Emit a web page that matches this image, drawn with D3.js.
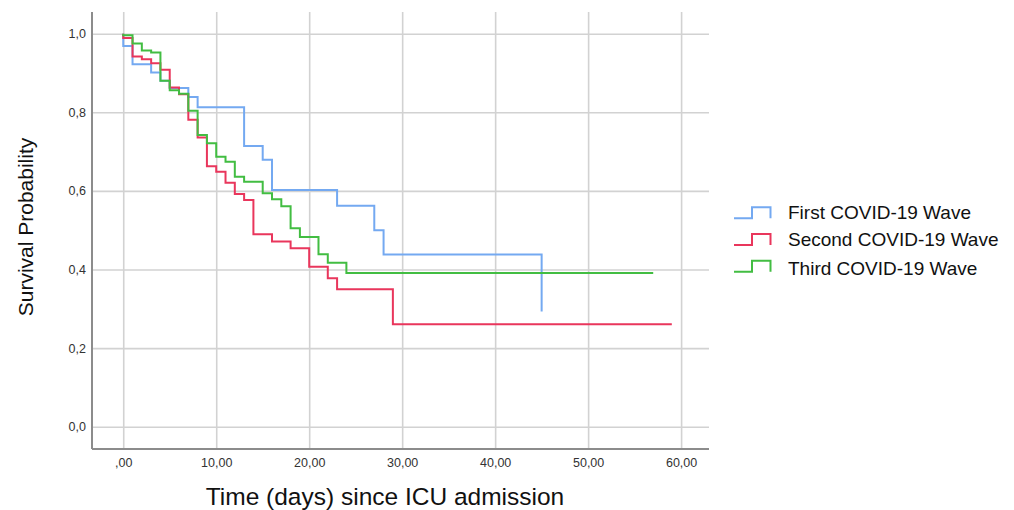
<!DOCTYPE html>
<html>
<head>
<meta charset="utf-8">
<script src="https://cdn.jsdelivr.net/npm/d3@7"></script>
<style>
  html, body { margin: 0; padding: 0; background: #fff; }
  svg { display: block; font-family: "Liberation Sans", Arial, sans-serif; }
</style>
</head>
<body>
<svg id="chart" width="1014" height="510"></svg>
<script>
// Kaplan-Meier survival estimates per wave: event times (days) and survival after each event
const waveNames = ["First COVID-19 Wave", "Second COVID-19 Wave", "Third COVID-19 Wave"];

const firstTimes = [0, 1, 3, 4, 5, 7, 8, 13, 15, 16, 23, 27, 28, 45];
const firstSurv  = [0.969, 0.922, 0.901, 0.880, 0.862, 0.839, 0.813, 0.714, 0.679, 0.602, 0.562, 0.500, 0.438, 0.293];
const firstEnd   = 45;

const secondTimes = [0, 1, 2, 3, 4, 5, 6, 7, 8, 9, 10, 11, 12, 13, 14, 16, 18, 20, 22, 23, 29];
const secondSurv  = [0.989, 0.942, 0.935, 0.925, 0.908, 0.863, 0.846, 0.781, 0.736, 0.663, 0.649, 0.621, 0.592, 0.577, 0.490, 0.471, 0.454, 0.407, 0.378, 0.350, 0.261];
const secondEnd   = 59;

const thirdTimes = [0, 1, 2, 3, 4, 5, 6, 7, 8, 9, 10, 11, 12, 13, 15, 16, 17, 18, 19, 21, 22, 24];
const thirdSurv  = [0.996, 0.975, 0.957, 0.952, 0.880, 0.856, 0.847, 0.804, 0.742, 0.721, 0.687, 0.674, 0.636, 0.623, 0.594, 0.579, 0.561, 0.505, 0.483, 0.439, 0.417, 0.391];
const thirdEnd   = 57;

const xTickValues = [0, 10, 20, 30, 40, 50, 60];
const xTickLabels = [",00", "10,00", "20,00", "30,00", "40,00", "50,00", "60,00"];
const yTickValues = [0, 0.2, 0.4, 0.6, 0.8, 1.0];
const yTickLabels = ["0,0", "0,2", "0,4", "0,6", "0,8", "1,0"];

const colors = ["#74a9f1", "#e9365c", "#42bd42"];

const svg = d3.select("#chart");
const plotLeft = 92, plotRight = 709, plotTop = 12, plotBottom = 449;

const x = d3.scaleLinear().domain([-3.36, 63.0]).range([plotLeft, plotRight]);
const y = d3.scaleLinear().domain([-0.0567, 1.0552]).range([plotBottom, plotTop]);

// Grid lines
const gridX = d3.axisBottom(x).tickValues(xTickValues).tickSize(-(plotBottom - plotTop)).tickFormat("");
const gridY = d3.axisLeft(y).tickValues(yTickValues).tickSize(-(plotRight - plotLeft)).tickFormat("");

svg.append("g").attr("transform", `translate(0,${plotBottom})`).call(gridX)
  .call(g => g.select(".domain").remove())
  .call(g => g.selectAll("line").attr("stroke", "#d2d2d2").attr("stroke-width", 1.6));
svg.append("g").attr("transform", `translate(${plotLeft},0)`).call(gridY)
  .call(g => g.select(".domain").remove())
  .call(g => g.selectAll("line").attr("stroke", "#d2d2d2").attr("stroke-width", 1.6));

// Axes
const xAxis = d3.axisBottom(x).tickValues(xTickValues).tickSize(0).tickPadding(9)
  .tickFormat((d, i) => xTickLabels[i]);
const yAxis = d3.axisLeft(y).tickValues(yTickValues).tickSize(0).tickPadding(6)
  .tickFormat((d, i) => yTickLabels[i]);

svg.append("g").attr("transform", `translate(0,${plotBottom})`).call(xAxis)
  .call(g => g.select(".domain").attr("d", `M${plotLeft},0H${plotRight}`).attr("stroke", "#8c8c8c").attr("stroke-width", 2))
  .call(g => g.selectAll("text").attr("font-size", 12.5).attr("fill", "#333")
    .attr("font-family", "'Liberation Sans', Arial, sans-serif"));
svg.append("g").attr("transform", `translate(${plotLeft},0)`).call(yAxis)
  .call(g => g.select(".domain").attr("d", `M0,${plotTop}V${plotBottom}`).attr("stroke", "#8c8c8c").attr("stroke-width", 2))
  .call(g => g.selectAll("text").attr("font-size", 12.5).attr("fill", "#333")
    .attr("font-family", "'Liberation Sans', Arial, sans-serif"));

// Survival step curves
function stepPoints(times, surv, end) {
  const pts = [[0, 1]];
  times.forEach((t, i) => pts.push([t, surv[i]]));
  const last = pts[pts.length - 1];
  if (end > last[0]) pts.push([end, last[1]]);
  return pts;
}

const series = [
  stepPoints(firstTimes, firstSurv, firstEnd),
  stepPoints(secondTimes, secondSurv, secondEnd),
  stepPoints(thirdTimes, thirdSurv, thirdEnd)
];

const line = d3.line().x(d => x(d[0])).y(d => y(d[1])).curve(d3.curveStepAfter);

svg.append("g").selectAll("path").data(series).join("path")
  .attr("d", line)
  .attr("fill", "none")
  .attr("stroke", (d, i) => colors[i])
  .attr("stroke-width", 2)
  .attr("stroke-linejoin", "miter");

// Legend
const legendRows = [218.3, 245, 271.7];
const legend = svg.append("g");
waveNames.forEach((name, i) => {
  const by = legendRows[i];
  legend.append("path")
    .attr("d", `M734,${by}H752V${by - 11}H770.5V${by}`)
    .attr("fill", "none")
    .attr("stroke", colors[i])
    .attr("stroke-width", 2);
  legend.append("text")
    .attr("x", 788)
    .attr("y", by + 0.5 + (i === 0 ? 0 : i === 1 ? 0.5 : 3))
    .attr("font-size", 19)
    .attr("fill", "#111")
    .text(name);
});

// Axis titles
svg.append("text")
  .attr("x", 385).attr("y", 505)
  .attr("text-anchor", "middle")
  .attr("font-size", 24.5)
  .attr("fill", "#111")
  .text("Time (days) since ICU admission");

svg.append("text")
  .attr("transform", "translate(33,227) rotate(-90)")
  .attr("text-anchor", "middle")
  .attr("font-size", 21)
  .attr("fill", "#111")
  .text("Survival Probability");
</script>
</body>
</html>
